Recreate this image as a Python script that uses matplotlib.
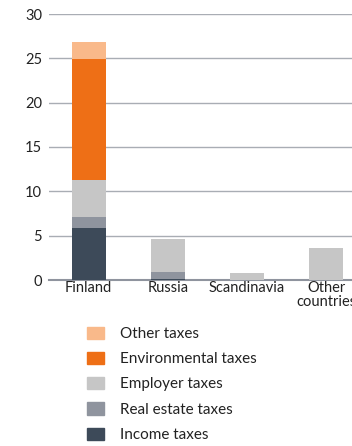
import matplotlib.pyplot as plt
import matplotlib.patches as mpatches
import numpy as np

plt.rcParams['font.family'] = ['Lato', 'DejaVu Sans']

regions = ["Finland", "Russia", "Scandinavia", "Other\ncountries"]
income_taxes = [5.9, 0.1, 0.0, 0.0]
real_estate_taxes = [1.2, 0.8, 0.0, 0.0]
employer_taxes = [4.2, 3.7, 0.8, 3.6]
environmental_taxes = [13.6, 0.0, 0.0, 0.0]
other_taxes = [1.9, 0.0, 0.0, 0.0]

series = [
    ("Income taxes", income_taxes, "#3d4a59"),
    ("Real estate taxes", real_estate_taxes, "#8f949e"),
    ("Employer taxes", employer_taxes, "#c6c6c6"),
    ("Environmental taxes", environmental_taxes, "#ee6f16"),
    ("Other taxes", other_taxes, "#f9b98a"),
]

W, H = 352, 446
fig = plt.figure(figsize=(W / 100, H / 100), dpi=100)
# axes runs a bit past the right edge, so the last label gets clipped
ax = fig.add_axes([49 / W, (H - 280) / H, 317 / W, 266 / H])

x = np.arange(len(regions))
bottom = np.zeros(len(regions))
handles = []
for name, vals, col in series:
    vals = np.array(vals)
    ax.bar(x, vals, bottom=bottom, width=0.43, color=col, zorder=3)
    bottom += vals
    handles.append(mpatches.Patch(color=col, label=name))

ax.set_xlim(-0.5, 3.5)
ax.set_ylim(0, 30)
ax.set_yticks(range(0, 31, 5))
ax.set_xticks(x)
ax.set_xticklabels(regions, fontsize=10.5, color="#222222", linespacing=0.95)
ax.tick_params(axis="y", labelsize=10.5, labelcolor="#222222", length=0, pad=5)
ax.tick_params(axis="x", length=0, pad=1)
ax.grid(axis="y", color="#a9adb4", linewidth=1.0, zorder=0)
for s in ["top", "right", "left"]:
    ax.spines[s].set_visible(False)
ax.spines["bottom"].set_color("#8f949e")
ax.spines["bottom"].set_linewidth(1.5)

fig.legend(handles=handles[::-1], loc="upper left",
           bbox_to_anchor=(79 / W, 1 - 319 / H), frameon=False,
           fontsize=11, handlelength=1.11, handleheight=0.85,
           handletextpad=1.05, labelspacing=0.71, borderpad=0,
           labelcolor="#222222")

fig.savefig("out.png", dpi=100)
